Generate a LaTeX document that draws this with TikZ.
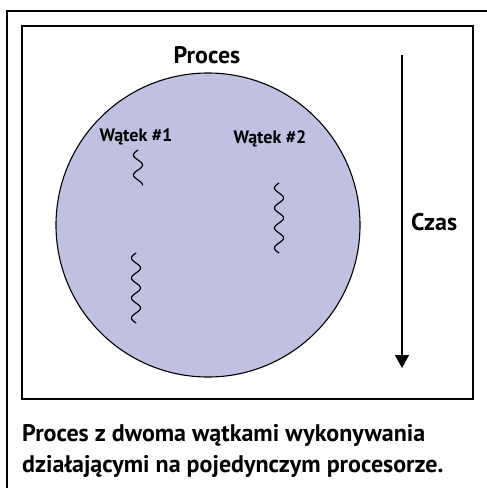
\documentclass[tikz,border=0pt]{standalone}
\usepackage{fontspec}
\setmainfont{PT Sans}
\usetikzlibrary{arrows.meta}
\definecolor{procfill}{RGB}{192,192,225}
\tikzset{
  frame/.style={draw=black, line width=1.4pt},
  thread/.style={draw=black, line width=1.2pt, line cap=round},
  lbl/.style={font=\bfseries\fontsize{18}{21}\selectfont, inner sep=0pt},
  title/.style={font=\bfseries\fontsize{24}{28}\selectfont, inner sep=0pt},
  caption/.style={font=\bfseries\fontsize{24}{28}\selectfont, inner sep=0pt, anchor=base west},
}
\begin{document}
\begin{tikzpicture}[x=1pt,y=-1pt]
  \useasboundingbox (0,0) rectangle (487,488);
  \clip (0,0) rectangle (487,488);
  % outer and inner frames
  \draw[frame] (7,11) rectangle (500,500);
  \draw[frame] (22,26) rectangle (473,399);
  % the process
  \node[title] (proc) at (207,55) {Proces};
  \draw[draw=black, line width=1.1pt, fill=procfill] (208,225) circle[radius=152];
  \node[lbl] (t1) at (136,137) {Wątek \#1};
  \node[lbl] (t2) at (270,139) {Wątek \#2};
  % threads of execution
  \draw[thread] plot[domain=0:35, samples=80, smooth] ({138 - 4.5*sin(18*\x)}, {150 + \x});
  \draw[thread] plot[domain=0:70, samples=140, smooth] ({279 - 4.5*sin(18*\x)}, {183 + \x});
  \draw[thread] plot[domain=0:70, samples=140, smooth] ({136 - 4.5*sin(18*\x)}, {253 + \x});
  % time axis
  \coordinate (tstart) at (402,55);
  \coordinate (tend) at (402,368);
  \draw[line width=1.4pt, -{Triangle[width=14pt,length=13pt]}] (tstart) -- (tend);
  \node[title, anchor=west] (czas) at (411,222) {Czas};
  % caption
  \node[caption] (cap1) at (22,441) {Proces z dwoma wątkami wykonywania};
  \node[caption] (cap2) at (22,472) {działającymi na pojedynczym procesorze.};
\end{tikzpicture}
\end{document}
